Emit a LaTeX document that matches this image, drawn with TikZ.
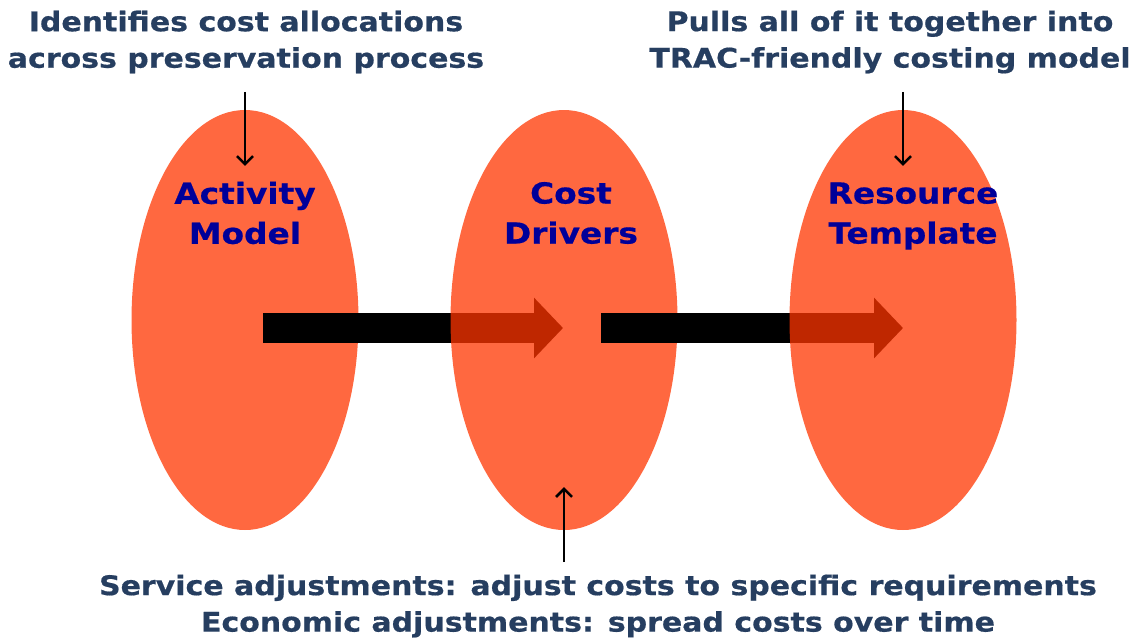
\documentclass[tikz,border=0pt]{standalone}
\usepackage{fontspec}
\setmainfont{DejaVu Sans}
\newfontfamily\widefont[FakeStretch=1.11,FakeBold=0.6]{DejaVu Sans}
\newfontfamily\widerfont[FakeStretch=1.13,FakeBold=0.6]{DejaVu Sans}
\usepackage{tikz}
\usetikzlibrary{positioning,
        shapes,
        arrows.meta,
        fit}
\usepackage{xcolor}
\definecolor{ovalred}{RGB}{255,53,0}
\definecolor{labelblue}{RGB}{0,0,153}
\definecolor{notegray}{RGB}{38,62,96}

\begin{document}
\begin{tikzpicture}[x=1pt,y=-1pt,
        oval/.style={ellipse,fill=ovalred,fill opacity=0.75,minimum width=227pt,minimum height=420pt,inner sep=0pt},
        label/.style={text=labelblue,font=\widerfont\fontsize{29}{40}\selectfont\bfseries,align=center},
        note/.style={text=notegray,font=\widefont\fontsize{27}{36.5}\selectfont\bfseries,align=center},
        pointer/.style={-{Straight Barb[length=8pt,width=16pt]},line width=2.5pt},
        flow/.style={-{Triangle[width=59pt,length=29pt]},line width=30pt}]
            \useasboundingbox (0,0) rectangle (1138,641);
            \node [oval] (activity) at (245,320) {};
            \draw [flow] ([xshift=18pt,yshift=-8pt]activity.center) -- (563,328);
            \node [oval] (drivers) at (564,320) {};
            \draw [flow] ([xshift=37pt,yshift=-8pt]drivers.center) -- (903,328);
            \node [oval] (resource) at (903,320) {};

            \node [label] (activitytxt) at (245,213) {Activity\\Model};
            \node [label] (driverstxt) at (571,213) {Cost\\Drivers};
            \node [label] (resourcetxt) at (913,216) {Resource\\Template};

            \node [note] (idtxt) at (246,42) {Identifies cost allocations\\across preservation process};
            \node [note] (pulltxt) at (890,42) {Pulls all of it together into\\TRAC-friendly costing model};
            \node [note] (adjtxt) at (598,606) {Service adjustments: adjust costs to specific requirements\\Economic adjustments: spread costs over time};

            \draw [pointer] ([yshift=18pt]activity.north) -- ([yshift=-56pt]activity.north);
            \draw [pointer] ([yshift=18pt]resource.north) -- ([yshift=-56pt]resource.north);
            \draw [pointer] ([yshift=-32pt]drivers.south) -- ([yshift=43pt]drivers.south);
        \end{tikzpicture}
\end{document}
